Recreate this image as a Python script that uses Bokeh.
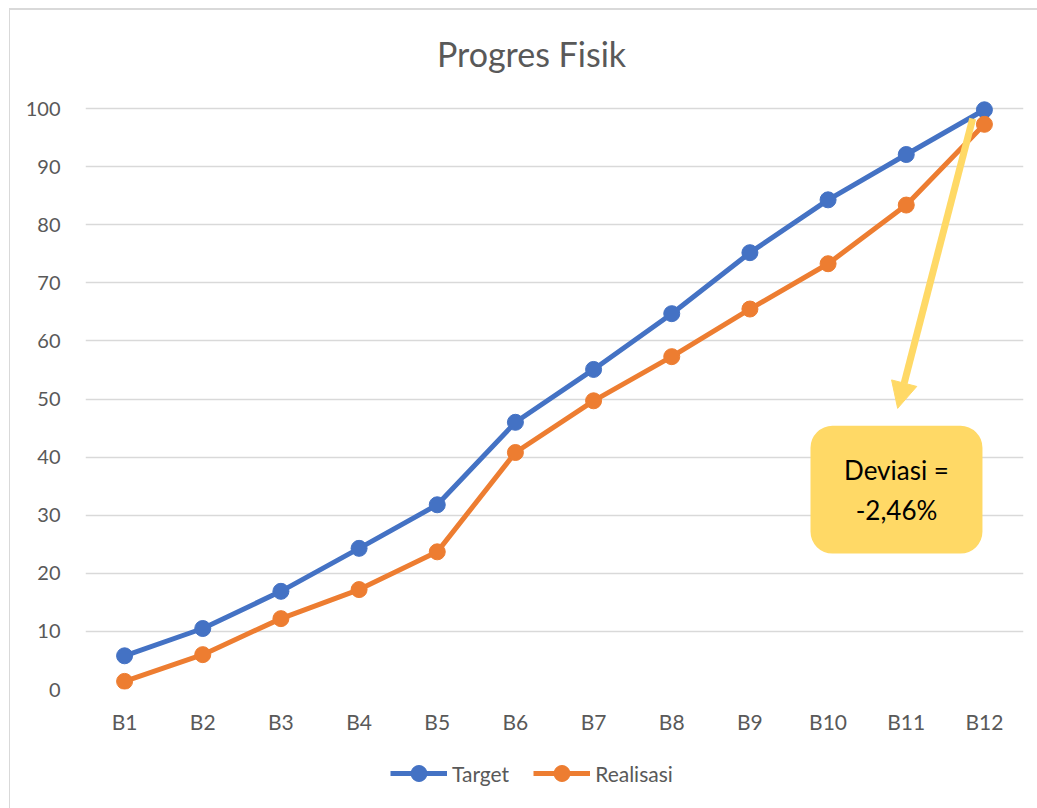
from bokeh.plotting import figure
from bokeh.layouts import column
from bokeh.models import (FactorRange, Range1d, Legend, LegendItem, Arrow,
                          NormalHead, BoxAnnotation, Label, FixedTicker)
from bokeh.embed import file_html
from bokeh.resources import INLINE

# ---- data ----
categories = ["B1", "B2", "B3", "B4", "B5", "B6", "B7", "B8", "B9", "B10", "B11", "B12"]
target = [5.8, 10.5, 16.9, 24.3, 31.8, 46.0, 55.1, 64.7, 75.2, 84.3, 92.1, 99.8]
realisasi = [1.4, 6.0, 12.2, 17.2, 23.7, 40.8, 49.7, 57.3, 65.5, 73.3, 83.4, 97.3]
y_ticks = [0, 10, 20, 30, 40, 50, 60, 70, 80, 90, 100]
title_text = "Progres Fisik"
series_names = ["Target", "Realisasi"]
callout_lines = ["Deviasi =", "-2,46%"]

BLUE = "#4472C4"
ORANGE = "#ED7D31"
YELLOW = "#FFD966"
GREY_TXT = "#595959"
GRID = "#D9D9D9"
FONT = "Lato"


def strip(height, y_range, x_range):
    f = figure(width=1037, height=height, output_backend="svg", toolbar_location=None,
               x_range=x_range, y_range=y_range, x_axis_type=None, y_axis_type=None,
               min_border_left=0, min_border_right=0, min_border_top=0,
               min_border_bottom=0, title=None)
    f.outline_line_color = None
    f.grid.visible = False
    f.background_fill_alpha = 0
    f.border_fill_alpha = 0
    return f


# ---- title strip ----
tf = strip(92, Range1d(0, 92), Range1d(0, 938))
tf.add_layout(Label(x=446, y=39, text=title_text, text_align="center",
                    text_baseline="middle", text_font=FONT, text_font_size="34px",
                    text_color=GREY_TXT))

# ---- main chart (a little headroom above 100 so the top marker is not cut) ----
p = figure(width=1037, height=658, output_backend="svg", toolbar_location=None,
           x_range=FactorRange(*categories), y_range=Range1d(0, 101.4),
           min_border_left=85, min_border_right=14, min_border_top=8,
           min_border_bottom=61, title=None)
p.outline_line_color = None
p.background_fill_color = "white"
p.border_fill_alpha = 0

p.xgrid.grid_line_color = None
p.ygrid.grid_line_color = GRID
p.ygrid.grid_line_width = 1.5
p.yaxis.ticker = FixedTicker(ticks=y_ticks)
for ax in (p.xaxis[0], p.yaxis[0]):
    ax.axis_line_color = None
    ax.major_tick_line_color = None
    ax.minor_tick_line_color = None
    ax.major_label_text_font = FONT
    ax.major_label_text_color = GREY_TXT
p.yaxis.major_label_text_font_size = "20px"
p.xaxis.major_label_text_font_size = "21px"
p.yaxis.major_label_standoff = 19
p.xaxis.major_label_standoff = 13

p.line(categories, target, line_color=BLUE, line_width=5, line_join="round")
p.scatter(categories, target, size=16, fill_color=BLUE, line_color=BLUE)
p.line(categories, realisasi, line_color=ORANGE, line_width=5, line_join="round")
p.scatter(categories, realisasi, size=16, fill_color=ORANGE, line_color=ORANGE)

# callout
p.add_layout(BoxAnnotation(left=9.275, right=11.475, bottom=23.4, top=45.4,
                           fill_color=YELLOW, fill_alpha=1, line_color=None,
                           border_radius=22, level="annotation"))
p.add_layout(Arrow(x_start=11.35, y_start=98.3, x_end=10.39, y_end=48.4,
                   line_color=YELLOW, line_width=7,
                   end=NormalHead(size=26, fill_color=YELLOW, line_color=YELLOW)))
for txt, yy in zip(callout_lines, [37.8, 30.9]):
    p.add_layout(Label(x=10.375, y=yy, text=txt, text_align="center",
                       text_baseline="middle", text_font=FONT,
                       text_font_size="26px", text_color="black"))

# ---- legend strip (series drawn out of view, only their legend entries show) ----
lg = strip(58, Range1d(1000, 1001), FactorRange(*categories))
rl1 = lg.line(categories, target, line_color=BLUE, line_width=5)
rs1 = lg.scatter(categories, target, size=16, fill_color=BLUE, line_color=BLUE)
rl2 = lg.line(categories, realisasi, line_color=ORANGE, line_width=5)
rs2 = lg.scatter(categories, realisasi, size=16, fill_color=ORANGE, line_color=ORANGE)
legend = Legend(items=[LegendItem(label=series_names[0], renderers=[rl1, rs1]),
                       LegendItem(label=series_names[1], renderers=[rl2, rs2])],
                orientation="horizontal", location=(305, 15),
                label_text_font=FONT, label_text_font_size="21px",
                label_text_color=GREY_TXT, glyph_width=57, glyph_height=40,
                label_height=40, label_standoff=5, spacing=24, border_line_color=None,
                background_fill_alpha=0, margin=0, padding=0)
lg.add_layout(legend)

layout = column(tf, p, lg, spacing=0)
layout.styles = {
    "background": "linear-gradient(#D9D9D9,#D9D9D9) 9px 8px / 1px 800px no-repeat, "
                  "linear-gradient(#D9D9D9,#D9D9D9) 9px 8px / 1028px 2px no-repeat, white"
}

open("out.html", "w").write(file_html(layout, INLINE))
